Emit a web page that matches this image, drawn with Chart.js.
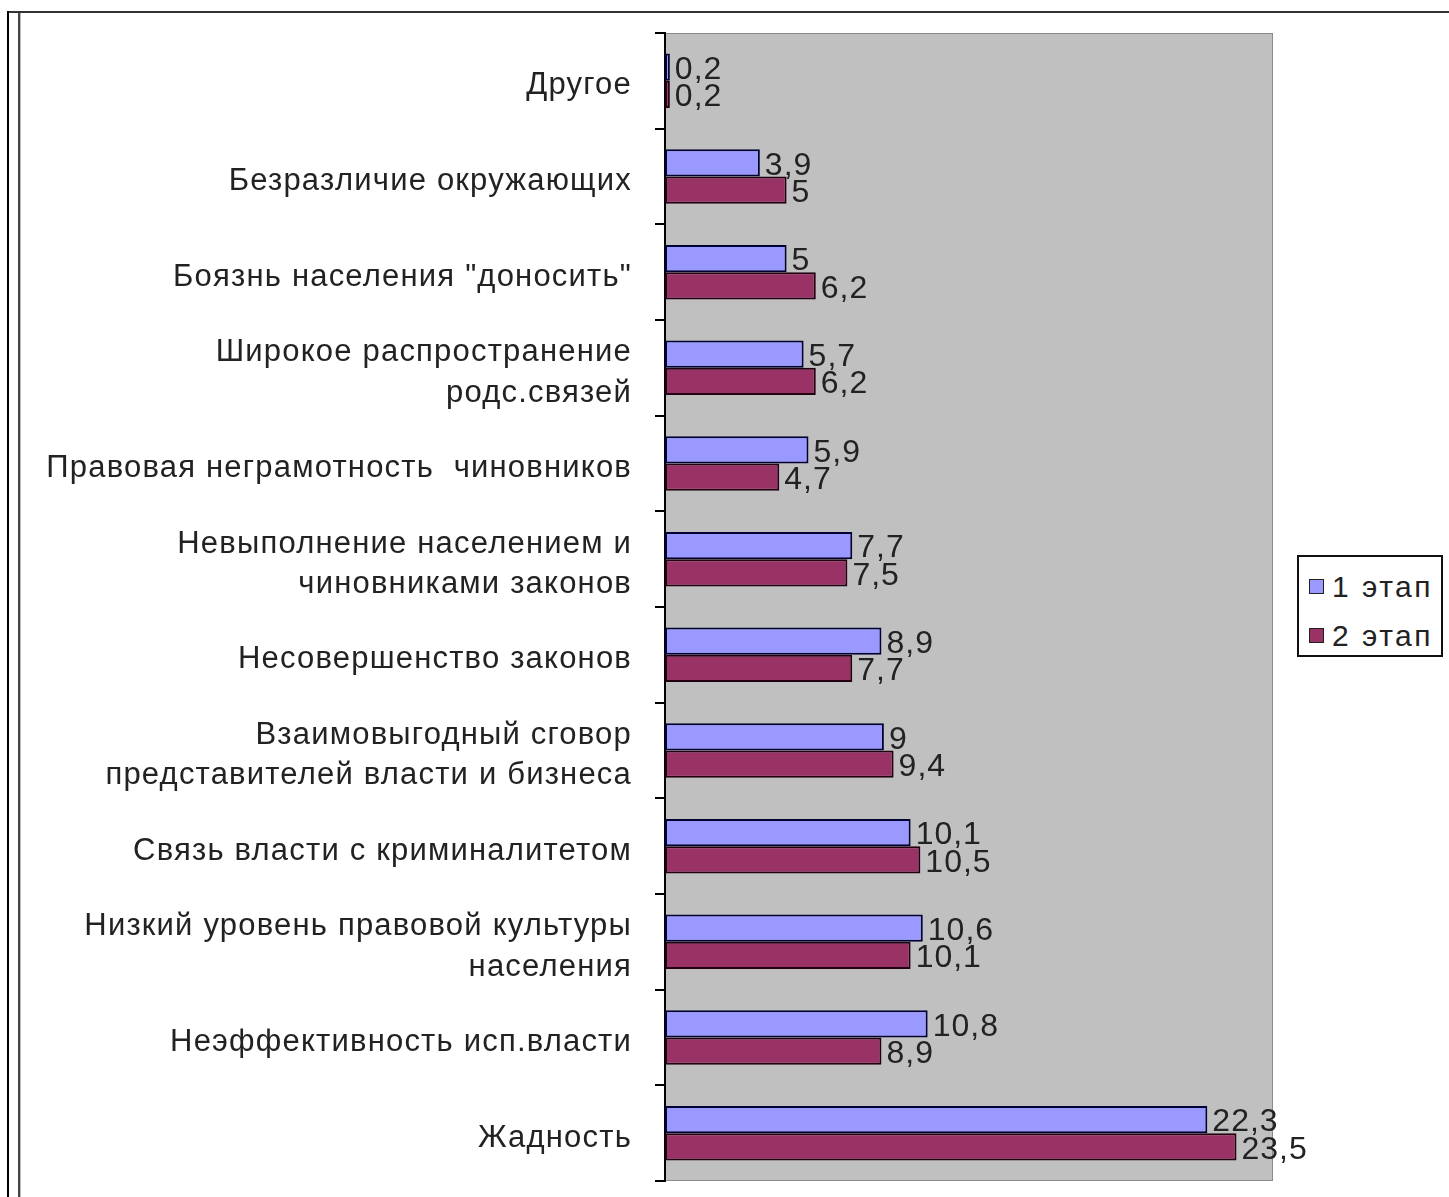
<!DOCTYPE html>
<html>
<head>
<meta charset="utf-8">
<script src="https://cdn.jsdelivr.net/npm/chart.js@4/dist/chart.umd.min.js"></script>
<style>
  html, body { margin: 0; padding: 0; background: #fff; }
  body { width: 1449px; height: 1197px; position: relative; overflow: hidden; font-family: "Liberation Sans", Arial, sans-serif; }
  #wrap { position: absolute; left: 0; top: 0; width: 1449px; height: 1197px; }
  .line { position: absolute; }
  #legend { position: absolute; left: 1297px; top: 555px; width: 142px; height: 98px; border: 2px solid #111; background: #fff; }
  .item { position: absolute; left: 10px; font-size: 30px; letter-spacing: 2.5px; color: #222; line-height: 32px; white-space: nowrap; }
  .sw { display: inline-block; width: 13px; height: 13px; border: 1px solid #222; margin-right: 8px; vertical-align: 3px; }
</style>
</head>
<body>
<div class="line" style="left:7px;top:11px;width:1442px;height:2px;background:#333"></div>
<div class="line" style="left:7px;top:11px;width:2px;height:1186px;background:#000"></div>
<div class="line" style="left:18px;top:13px;width:2px;height:1184px;background:#444"></div>
<div class="line" style="left:20px;top:13px;width:1px;height:1184px;background:#bbb"></div>
<div id="wrap"><canvas id="c"></canvas></div>
<div id="legend">
  <div class="item" style="top:14px"><span class="sw" style="background:#9999ff"></span>1 этап</div>
  <div class="item" style="top:63px"><span class="sw" style="background:#993366"></span>2 этап</div>
</div>
<script>
// Категории (сверху вниз)
const categories = [
  'Другое',
  'Безразличие окружающих',
  'Боязнь населения "доносить"',
  ['Широкое распространение', 'родс.связей'],
  'Правовая неграмотность  чиновников',
  ['Невыполнение населением и', 'чиновниками законов'],
  'Несовершенство законов',
  ['Взаимовыгодный сговор', 'представителей власти и бизнеса'],
  'Связь власти с криминалитетом',
  ['Низкий уровень правовой культуры', 'населения'],
  'Неэффективность исп.власти',
  'Жадность'
];
const stage1 = [0.2, 3.9, 5, 5.7, 5.9, 7.7, 8.9, 9, 10.1, 10.6, 10.8, 22.3];
const stage2 = [0.2, 5, 6.2, 6.2, 4.7, 7.5, 7.7, 9.4, 10.5, 10.1, 8.9, 23.5];
const seriesNames = ['1 этап', '2 этап'];

// серый фон области построения
const plotBg = {
  id: 'plotBg',
  beforeDraw(chart) {
    const { ctx, chartArea: a } = chart;
    ctx.save();
    ctx.fillStyle = '#c0c0c0';
    ctx.fillRect(a.left, a.top, a.right - a.left, a.bottom - a.top);
    ctx.strokeStyle = '#8a8a8a';
    ctx.lineWidth = 1;
    ctx.strokeRect(a.left + 0.5, a.top + 0.5, a.right - a.left - 1, a.bottom - a.top - 1);
    ctx.restore();
  }
};

// разрядка букв для подписей категорий
const spacing = {
  id: 'spacing',
  beforeLayout(chart) { chart.ctx.letterSpacing = '1.2px'; },
  beforeDraw(chart) { chart.ctx.letterSpacing = '1.2px'; }
};

// подписи значений
const valueLabels = {
  id: 'valueLabels',
  afterDatasetsDraw(chart) {
    const { ctx } = chart;
    ctx.save();
    ctx.letterSpacing = '1px';
    ctx.font = '32px "Liberation Sans", Arial, sans-serif';
    ctx.fillStyle = '#222';
    ctx.textAlign = 'left';
    ctx.textBaseline = 'middle';
    chart.data.datasets.forEach((ds, i) => {
      chart.getDatasetMeta(i).data.forEach((bar, j) => {
        const txt = String(ds.data[j]).replace('.', ',');
        ctx.fillText(txt, bar.x + 5, bar.y + 3);
      });
    });
    ctx.restore();
  }
};

const canvas = document.getElementById('c');
canvas.width = 1449;
canvas.height = 1197;

new Chart(canvas.getContext('2d'), {
  type: 'bar',
  data: {
    labels: categories,
    datasets: [
      {
        label: seriesNames[0],
        data: stage1,
        backgroundColor: '#9999ff',
        borderColor: '#000033',
        borderWidth: 2,
        borderSkipped: false,
        barPercentage: 1,
        categoryPercentage: 0.57
      },
      {
        label: seriesNames[1],
        data: stage2,
        backgroundColor: '#993366',
        borderColor: '#220011',
        borderWidth: 2,
        borderSkipped: false,
        barPercentage: 1,
        categoryPercentage: 0.57
      }
    ]
  },
  options: {
    indexAxis: 'y',
    responsive: false,
    animation: false,
    layout: { padding: { left: 20, top: 33, right: 176, bottom: 16 } },
    scales: {
      x: {
        display: false,
        min: 0,
        max: 25
      },
      y: {
        afterFit(scale) {
          scale.width = 645;
          scale.paddingTop = 0;
          scale.paddingBottom = 0;
        },
        grid: {
          display: true,
          drawOnChartArea: false,
          drawTicks: true,
          tickLength: 10,
          color: '#000',
          lineWidth: 2,
          offset: true
        },
        border: { display: true, color: '#000', width: 2 },
        ticks: {
          padding: 23,
          labelOffset: 5,
          color: '#222',
          font: { family: '"Liberation Sans", Arial, sans-serif', size: 31, lineHeight: 1.3 }
        }
      }
    },
    plugins: {
      legend: { display: false },
      tooltip: { enabled: false }
    }
  },
  plugins: [spacing, plotBg, valueLabels]
});
</script>
</body>
</html>
